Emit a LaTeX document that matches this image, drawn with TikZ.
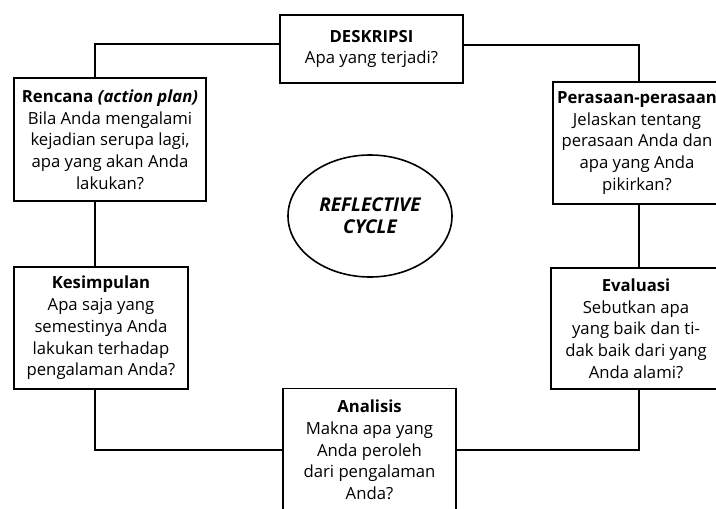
\documentclass[tikz,border=0pt]{standalone}
\usepackage{fontspec}
\setmainfont{Open Sans}
\usetikzlibrary{shapes.geometric}

\begin{document}
\begin{tikzpicture}[x=1pt, y=-1pt]
\tikzstyle{every node}=[align=center, inner sep=0pt, font=\fontsize{16.7}{21.7}\selectfont]
\tikzstyle{box}=[draw, line width=1.6pt, fill=white]
\useasboundingbox (0,0) rectangle (716,509);
\clip (0,0) rectangle (716,509);
\coordinate (lx) at (95,0);
\coordinate (rx) at (639,0);
\node[box, minimum width=183pt, minimum height=68pt]	(desk) at (371.5,49)
	{\textbf{DESKRIPSI}\\Apa yang terjadi?};
\node[box, minimum width=192pt, minimum height=123pt]	(renc) at (110,139.5)
	{\textbf{Rencana \textit{(action plan)}}\\Bila Anda mengalami\\kejadian serupa lagi,\\apa yang akan Anda\\lakukan?};
\node[box, minimum width=168pt, minimum height=122pt]	(pera) at (637,143)
	{\textbf{Perasaan-perasaan}\\Jelaskan tentang\\perasaan Anda dan\\apa yang Anda\\pikirkan?};
\node[box, minimum width=170pt, minimum height=121pt]	(eval) at (636,328.5)
	{\textbf{Evaluasi}\\Sebutkan apa\\yang baik dan ti-\\dak baik dari yang\\Anda alami?};
\node[box, minimum width=173pt, minimum height=123pt]	(anal) at (369.5,450)
	{\textbf{Analisis}\\Makna apa yang\\Anda peroleh\\dari pengalaman\\Anda?};
\node[box, minimum width=174pt, minimum height=122pt]	(kes) at (101,328)
	{\textbf{Kesimpulan}\\Apa saja yang\\semestinya Anda\\lakukan terhadap\\pengalaman Anda?};
\node[draw, ellipse, line width=1.6pt, minimum width=164pt, minimum height=122pt,
	font=\fontsize{19}{22}\selectfont\bfseries\itshape]	(cyc) at (370,216)
	{REFLECTIVE\\CYCLE};
\path[draw, line width=1.6pt]
([yshift=5pt]desk.west)	-| (renc.north -| lx)
([yshift=4pt]desk.east)	-| (pera.north -| rx)
(renc.south -| lx)		-- (kes.north -| lx)
(pera.south -| rx)		-- (eval.north -| rx)
(eval.south -| rx)		|- (anal.east)
(anal.west)			-| (kes.south -| lx);
\end{tikzpicture}
\end{document}
